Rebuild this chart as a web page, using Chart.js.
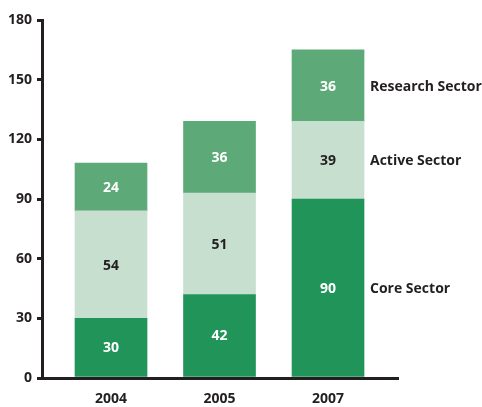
<!DOCTYPE html>
<html>
<head>
<meta charset="utf-8">
<script src="https://cdn.jsdelivr.net/npm/chart.js@4/dist/chart.umd.min.js"></script>
<style>
  html, body { margin: 0; padding: 0; background: #fff; }
  #wrap { width: 482px; height: 407px; }
</style>
</head>
<body>
<div id="wrap"><canvas id="chart"></canvas></div>
<script>
  const years = ['2004', '2005', '2007'];
  const coreSector = [30, 42, 90];
  const activeSector = [54, 51, 39];
  const researchSector = [24, 36, 36];
  const seriesNames = ['Core Sector', 'Active Sector', 'Research Sector'];
  const yTicks = [0, 30, 60, 90, 120, 150, 180];

  const INK = '#231f20';
  const FONT = "'Open Sans', 'DejaVu Sans', sans-serif";

  function pts(arr){ return arr.map((v, i) => ({ x: i, y: v })); }

  // value labels in the segments + series names next to the last bar
  const labelPlugin = {
    id: 'segLabels',
    afterDatasetsDraw(chart){
      const ctx = chart.ctx;
      ctx.save();
      ctx.font = 'bold 14px ' + FONT;
      ctx.textBaseline = 'middle';
      chart.data.datasets.forEach((ds, di) => {
        const meta = chart.getDatasetMeta(di);
        meta.data.forEach((bar, i) => {
          const mid = (bar.y + bar.base) / 2;
          ctx.textAlign = 'center';
          ctx.fillStyle = ds.labelColor;
          ctx.fillText(String(ds.data[i].y), bar.x, mid + 1);
          if (i === meta.data.length - 1) {
            ctx.textAlign = 'left';
            ctx.fillStyle = INK;
            ctx.fillText(ds.label, bar.x + bar.width / 2 + 6, mid + 1);
          }
        });
      });
      ctx.restore();
    }
  };

  new Chart(document.getElementById('chart'), {
    type: 'bar',
    data: {
      datasets: [
        { label: seriesNames[0], data: pts(coreSector), backgroundColor: '#21945a', labelColor: '#ffffff' },
        { label: seriesNames[1], data: pts(activeSector), backgroundColor: '#c6dfcf', labelColor: INK },
        { label: seriesNames[2], data: pts(researchSector), backgroundColor: '#5ea978', labelColor: '#ffffff' }
      ]
    },
    options: {
      responsive: true,
      maintainAspectRatio: false,
      animation: false,
      layout: { padding: { top: 20, right: 84, left: 0, bottom: 0 } },
      datasets: { bar: { barThickness: 72, borderWidth: 0 } },
      plugins: { legend: { display: false }, tooltip: { enabled: false } },
      scales: {
        x: {
          type: 'linear',
          stacked: true,
          offset: false,
          bounds: 'ticks',
          min: -0.636,
          max: 2.645,
          afterBuildTicks: (axis) => { axis.ticks = years.map((y, i) => ({ value: i })); },
          afterFit: (scale) => { scale.height = 29; },
          grid: { display: false, drawTicks: false },
          border: { display: true, color: INK, width: 3 },
          ticks: {
            padding: 13,
            color: INK,
            font: { family: FONT, size: 14, weight: 'bold' },
            callback: (v) => years[v]
          }
        },
        y: {
          stacked: true,
          min: 0,
          max: 180,
          afterBuildTicks: (axis) => { axis.ticks = yTicks.map(v => ({ value: v })); },
          afterFit: (scale) => { scale.width = 42; },
          grid: { drawOnChartArea: false, drawTicks: true, tickLength: 5, color: INK, lineWidth: 3 },
          border: { display: true, color: INK, width: 3 },
          ticks: {
            padding: 5,
            color: INK,
            font: { family: FONT, size: 14, weight: 'bold' }
          }
        }
      }
    },
    plugins: [labelPlugin]
  });
</script>
</body>
</html>
